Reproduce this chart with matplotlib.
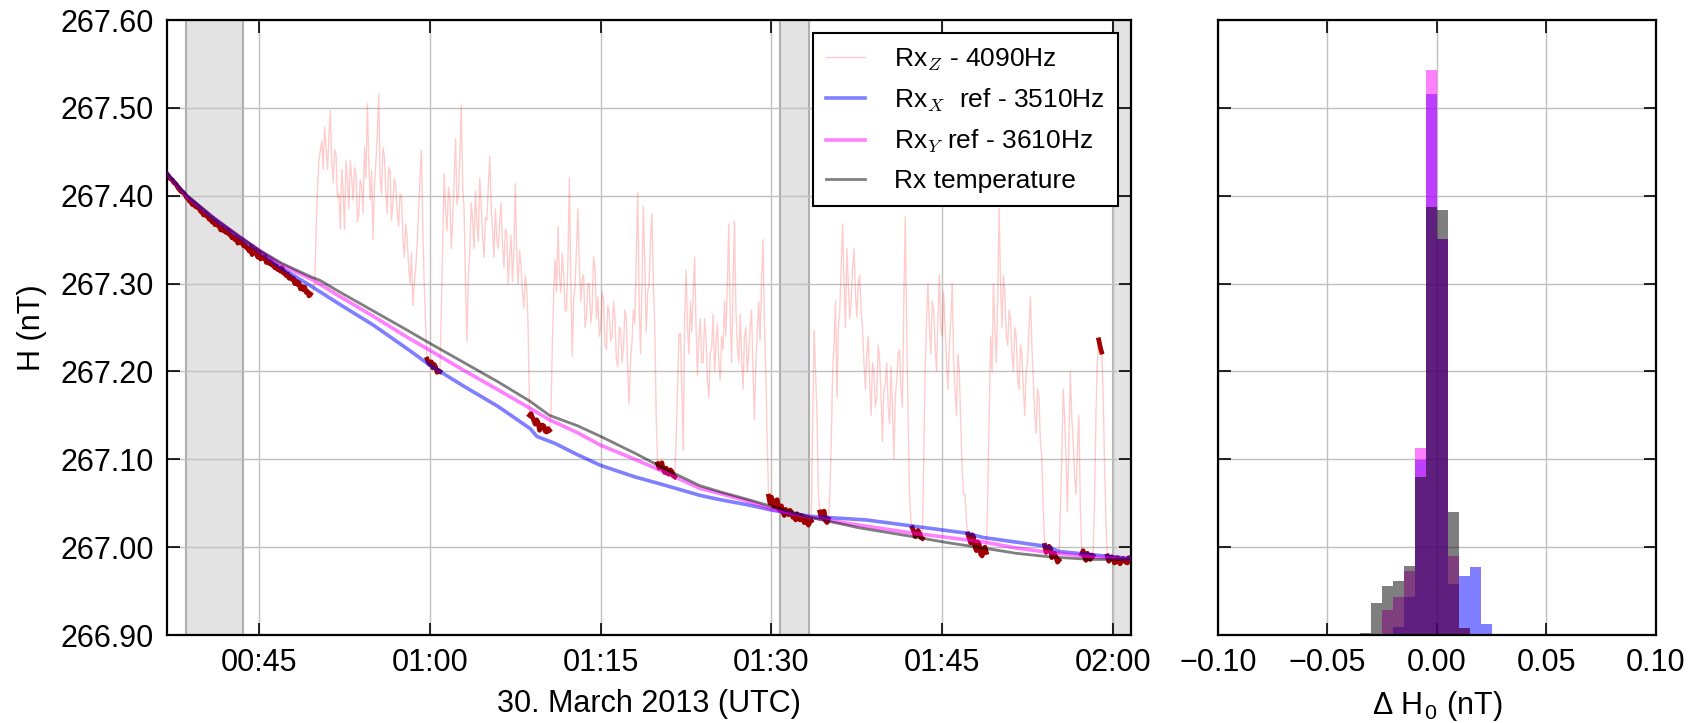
import numpy as np
import pandas as pd
import matplotlib
matplotlib.use('Agg')
import matplotlib.pyplot as plt
import matplotlib.dates as mdates

plt.rcParams['font.family'] = ['Liberation Sans', 'DejaVu Sans']
plt.rcParams['mathtext.fontset'] = 'cm'

# ---------------- data (minutes after 2013-03-30 00:00 UTC) ----------------
day = pd.Timestamp('2013-03-30')

# Rx temperature (grey)
temp_min = [36.87, 38.6, 41, 43, 45, 47, 49.5, 50.3, 52, 55, 58, 60, 63, 66, 68.8, 70.5, 73, 75,
            78, 80.5, 83.7, 85.5, 88, 90.1, 93.4, 97.7, 102.4, 105.5, 108.6, 111.5, 114.4, 118, 121.6]
temp_val = [267.426, 267.401, 267.375, 267.356, 267.338, 267.323, 267.308, 267.304, 267.291, 267.269,
            267.247, 267.232, 267.210, 267.188, 267.166, 267.150, 267.138, 267.126, 267.107, 267.090,
            267.070, 267.063, 267.054, 267.046, 267.034, 267.022, 267.012, 267.005, 266.999, 266.993,
            266.989, 266.986, 266.986]

# Rx_Y ref - 3610 Hz (magenta)
y_min = [36.87, 38.6, 41, 43, 45, 47, 49.75, 52, 55, 58, 60, 63, 66, 68.8, 70.5, 73, 75, 78, 80.5,
         83.7, 85.5, 88, 90.1, 93.4, 97.7, 102.4, 105.5, 108.6, 111.5, 114.4, 118, 121.6]
y_val = [267.426, 267.400, 267.375, 267.356, 267.338, 267.321, 267.304, 267.286, 267.263, 267.239,
         267.224, 267.201, 267.179, 267.158, 267.145, 267.130, 267.116, 267.100, 267.086, 267.067,
         267.061, 267.052, 267.043, 267.034, 267.025, 267.016, 267.011, 267.006, 266.999, 266.994,
         266.989, 266.986]

# Rx_X ref - 3510 Hz (blue)
x_min = [36.87, 38.6, 41, 43, 45, 46.82, 49.45, 52, 55, 58.2, 60, 63, 66, 68.8, 69.4, 71, 73, 75,
         78, 80.5, 83.7, 85.5, 88, 90.1, 93.4, 98.3, 102.4, 107.1, 108.6, 114.1, 115.3, 121.6]
x_val = [267.426, 267.400, 267.374, 267.355, 267.337, 267.319, 267.298, 267.277, 267.253, 267.224,
         267.207, 267.183, 267.160, 267.135, 267.126, 267.118, 267.105, 267.093, 267.080, 267.071,
         267.059, 267.054, 267.048, 267.042, 267.035, 267.031, 267.024, 267.016, 267.011, 267.001,
         266.995, 266.987]

# Rx_Z - 4090 Hz, sampled every 0.125 min from 00:36:45 (one row = one minute)
rz_start_min = 36.75
rz_step_min = 0.125
rz_val = [
    267.428, 267.425,
    267.423, 267.420, 267.419, 267.418, 267.415, 267.414, 267.412, 267.409,   # 37
    267.407, 267.405, 267.404, 267.403, 267.401, 267.398, 267.397, 267.394,
    267.393, 267.390, 267.392, 267.388, 267.387, 267.387, 267.385, 267.382,
    267.381, 267.378, 267.380, 267.377, 267.376, 267.373, 267.374, 267.370,   # 40
    267.371, 267.367, 267.369, 267.366, 267.365, 267.361, 267.364, 267.360,
    267.360, 267.358, 267.361, 267.356, 267.355, 267.352, 267.353, 267.350,
    267.352, 267.346, 267.349, 267.347, 267.347, 267.343, 267.344, 267.341,
    267.340, 267.337, 267.342, 267.333, 267.336, 267.338, 267.334, 267.330,
    267.335, 267.328, 267.330, 267.329, 267.331, 267.324, 267.326, 267.323,   # 45
    267.325, 267.321, 267.322, 267.318, 267.320, 267.316, 267.317, 267.314,
    267.318, 267.312, 267.313, 267.309, 267.311, 267.306, 267.308, 267.305,
    267.306, 267.300, 267.303, 267.299, 267.301, 267.294, 267.297, 267.293,
    267.296, 267.290, 267.291, 267.286, 267.288, 267.284, 267.292, 267.300,
    267.360, 267.410, 267.440, 267.452, 267.462, 267.430, 267.478, 267.455,   # 50
    267.430, 267.468, 267.497, 267.440, 267.415, 267.452, 267.447, 267.398,
    267.402, 267.362, 267.430, 267.405, 267.362, 267.440, 267.419, 267.385,
    267.440, 267.420, 267.395, 267.432, 267.425, 267.370, 267.378, 267.418,
    267.412, 267.380, 267.455, 267.420, 267.505, 267.440, 267.395, 267.428,
    267.350, 267.410, 267.438, 267.470, 267.516, 267.420, 267.402, 267.455,   # 55
    267.445, 267.405, 267.380, 267.432, 267.428, 267.372, 267.392, 267.420,
    267.410, 267.378, 267.365, 267.402, 267.398, 267.350, 267.330, 267.368,
    267.352, 267.318, 267.300, 267.335, 267.275, 267.300, 267.318, 267.345,
    267.382, 267.420, 267.452, 267.360, 267.300, 267.250, 267.214, 267.210,
    267.208, 267.211, 267.204, 267.208, 267.205, 267.199, 267.201, 267.200,   # 60
    267.270, 267.350, 267.425, 267.382, 267.360, 267.410, 267.398, 267.340,
    267.372, 267.418, 267.465, 267.390, 267.402, 267.445, 267.503, 267.410,
    267.385, 267.300, 267.234, 267.310, 267.335, 267.392, 267.372, 267.340,
    267.405, 267.370, 267.348, 267.420, 267.392, 267.352, 267.330, 267.375,
    267.372, 267.410, 267.445, 267.390, 267.360, 267.330, 267.385, 267.350,   # 65
    267.340, 267.370, 267.392, 267.345, 267.318, 267.362, 267.358, 267.300,
    267.330, 267.355, 267.302, 267.340, 267.414, 267.330, 267.300, 267.338,
    267.320, 267.290, 267.272, 267.310, 267.295, 267.250, 267.150, 267.152,
    267.148, 267.144, 267.140, 267.145, 267.142, 267.133, 267.136, 267.139,
    267.138, 267.132, 267.131, 267.135, 267.133, 267.150, 267.230, 267.290,   # 70
    267.327, 267.290, 267.365, 267.310, 267.290, 267.335, 267.310, 267.268,
    267.270, 267.330, 267.420, 267.300, 267.217, 267.280, 267.300, 267.340,
    267.385, 267.320, 267.280, 267.305, 267.310, 267.250, 267.262, 267.300,
    267.300, 267.255, 267.270, 267.330, 267.318, 267.260, 267.285, 267.240,
    267.250, 267.290, 267.282, 267.230, 267.225, 267.275, 267.268, 267.235,   # 75
    267.240, 267.280, 267.262, 267.215, 267.205, 267.250, 267.248, 267.210,
    267.228, 267.270, 267.262, 267.200, 267.162, 267.215, 267.235, 267.270,
    267.255, 267.330, 267.404, 267.280, 267.220, 267.300, 267.388, 267.320,
    267.245, 267.290, 267.300, 267.350, 267.380, 267.300, 267.250, 267.150,
    267.095, 267.090, 267.092, 267.096, 267.088, 267.085, 267.090, 267.084,   # 80
    267.083, 267.088, 267.086, 267.081, 267.080, 267.120, 267.180, 267.243,
    267.243, 267.180, 267.110, 267.260, 267.315, 267.250, 267.220, 267.280,
    267.245, 267.290, 267.330, 267.250, 267.195, 267.240, 267.260, 267.210,
    267.210, 267.260, 267.240, 267.190, 267.170, 267.220, 267.228, 267.265,
    267.200, 267.230, 267.255, 267.210, 267.190, 267.240, 267.225, 267.280,   # 85
    267.240, 267.300, 267.368, 267.260, 267.210, 267.300, 267.371, 267.270,
    267.230, 267.210, 267.265, 267.220, 267.180, 267.240, 267.250, 267.200,
    267.220, 267.250, 267.270, 267.200, 267.145, 267.210, 267.244, 267.280,
    267.235, 267.300, 267.350, 267.260, 267.200, 267.120, 267.058, 267.050,
    267.057, 267.049, 267.046, 267.053, 267.054, 267.044, 267.042, 267.047,   # 90
    267.040, 267.036, 267.043, 267.038, 267.037, 267.042, 267.040, 267.034,
    267.035, 267.031, 267.038, 267.033, 267.031, 267.036, 267.034, 267.028,
    267.028, 267.032, 267.025, 267.029, 267.030, 267.150, 267.247, 267.200,
    267.150, 267.060, 267.040, 267.034, 267.036, 267.041, 267.030, 267.028,
    267.032, 267.060, 267.120, 267.200, 267.230, 267.280, 267.170, 267.250,   # 95
    267.270, 267.320, 267.368, 267.300, 267.250, 267.340, 267.300, 267.260,
    267.280, 267.320, 267.340, 267.290, 267.262, 267.300, 267.310, 267.270,
    267.250, 267.210, 267.180, 267.220, 267.240, 267.190, 267.150, 267.210,
    267.200, 267.160, 267.170, 267.230, 267.215, 267.170, 267.120, 267.180,
    267.185, 267.210, 267.160, 267.140, 267.205, 267.160, 267.100, 267.170,   # 100
    267.190, 267.220, 267.225, 267.180, 267.160, 267.280, 267.376, 267.250,
    267.150, 267.060, 267.030, 267.022, 267.018, 267.012, 267.014, 267.019,
    267.016, 267.011, 267.010, 267.100, 267.200, 267.260, 267.300, 267.250,
    267.220, 267.280, 267.270, 267.230, 267.200, 267.260, 267.310, 267.250,
    267.240, 267.290, 267.250, 267.210, 267.180, 267.230, 267.260, 267.300,   # 105
    267.215, 267.180, 267.150, 267.220, 267.200, 267.140, 267.090, 267.060,
    267.060, 267.030, 267.015, 267.010, 267.005, 267.014, 267.012, 267.000,
    266.996, 267.006, 267.003, 266.992, 266.990, 266.998, 267.000, 266.994,
    267.060, 267.150, 267.240, 267.200, 267.300, 267.250, 267.210, 267.280,
    267.386, 267.300, 267.250, 267.310, 267.290, 267.240, 267.230, 267.270,   # 110
    267.260, 267.220, 267.200, 267.250, 267.240, 267.190, 267.180, 267.230,
    267.220, 267.180, 267.150, 267.200, 267.210, 267.250, 267.285, 267.230,
    267.190, 267.150, 267.130, 267.180, 267.170, 267.120, 267.100, 267.040,
    267.002, 266.994, 266.996, 267.001, 266.999, 266.988, 266.990, 266.993,
    266.988, 266.983, 266.985, 267.040, 267.100, 267.180, 267.150, 267.100,   # 115
    267.040, 267.120, 267.200, 267.150, 267.120, 267.080, 267.060, 267.110,
    267.150, 267.050, 266.992, 266.996, 266.989, 266.985, 266.993, 266.988,
    266.986, 266.991, 266.990, 267.050, 267.150, 267.210, 267.236, 267.228,
    267.222, 267.180, 267.100, 267.030, 266.990, 266.984, 266.986, 266.989,
    266.988, 266.982, 266.983, 266.988, 266.987, 266.981, 266.984, 266.987,   # 120
    266.986, 266.983, 266.982, 266.988, 266.987, 266.983, 266.985, 266.984,
]

# time windows (minutes) in which the Rx_Z reading is highlighted in dark red
valid_windows = [(36.7, 49.6), (59.7, 60.9), (68.7, 70.6), (80.0, 81.6), (89.7, 93.5),
                 (94.2, 95.1), (102.3, 103.3), (107.2, 108.9), (114.0, 115.3), (117.2, 118.3),
                 (118.7, 119.05), (119.45, 121.9)]

# grey shaded intervals (minutes)
band_spans = [(38.57, 43.6), (90.73, 93.33), (120.0, 121.7)]

# histogram of Delta H0
bin_edges = [-0.035, -0.03, -0.025, -0.02, -0.015, -0.01, -0.005, 0.0, 0.005, 0.01, 0.015, 0.02, 0.025]
hist_x = [0.00, 0.00, 0.00, 0.09, 0.43, 1.99, 6.16, 4.51, 0.58, 0.67, 0.77, 0.13]
hist_y = [0.00, 0.00, 0.28, 0.43, 0.73, 2.13, 6.43, 4.51, 0.90, 0.08, 0.00, 0.00]
hist_t = [0.02, 0.37, 0.56, 0.61, 0.79, 1.80, 4.87, 4.84, 1.40, 0.08, 0.00, 0.00]
hist_xticks = [-0.10, -0.05, 0.0, 0.05, 0.10]
hist_xticklabels = ['\u22120.10', '\u22120.05', '0.00', '0.05', '0.10']

y_ticks = [266.90, 267.00, 267.10, 267.20, 267.30, 267.40, 267.50, 267.60]
x_limits_min = (36.87, 121.58)


def to_time(minutes):
    return (day + pd.to_timedelta(np.asarray(minutes, dtype=float), unit='min')).values


# ---------------- figure ----------------
fig = plt.figure(figsize=(17.02, 7.23), dpi=100)
ax = fig.add_axes([0.0979, 0.1217, 0.5666, 0.8506])
axh = fig.add_axes([0.7156, 0.1217, 0.2573, 0.8506])

FS = 22

for t0, t1 in band_spans:
    tt = to_time([t0, t1])
    ax.axvspan(tt[0], tt[1], facecolor='#e3e3e3', edgecolor='#b0b0b0', lw=1.5, zorder=1)

rz_min = rz_start_min + rz_step_min * np.arange(len(rz_val))
rz_arr = np.asarray(rz_val)
lz, = ax.plot(to_time(rz_min), rz_arr, color='red', alpha=0.2, lw=1.0, zorder=2,
              label='Rx$_Z$ - 4090Hz')
for w0, w1 in valid_windows:
    m = (rz_min >= w0) & (rz_min <= w1)
    ax.plot(to_time(rz_min[m]), rz_arr[m], color='#a00000', lw=3.4, zorder=2.5)

lx, = ax.plot(to_time(x_min), x_val, color='blue', alpha=0.5, lw=2.6, zorder=3,
              label='Rx$_X$  ref - 3510Hz')
ly, = ax.plot(to_time(y_min), y_val, color='magenta', alpha=0.5, lw=2.6, zorder=3,
              label='Rx$_Y$ ref - 3610Hz')
lt, = ax.plot(to_time(temp_min), temp_val, color='black', alpha=0.5, lw=2.0, zorder=3,
              label='Rx temperature')

xl = to_time(list(x_limits_min))
ax.set_xlim(xl[0], xl[1])
ax.set_ylim(266.90, 267.60)
ax.set_yticks(y_ticks)
ax.yaxis.set_major_formatter(matplotlib.ticker.FormatStrFormatter('%.2f'))
ax.xaxis.set_major_locator(mdates.MinuteLocator(byminute=[0, 15, 30, 45]))
ax.xaxis.set_major_formatter(mdates.DateFormatter('%H:%M'))
ax.set_xlabel('30. March 2013 (UTC)', fontsize=FS, labelpad=8)
ax.set_ylabel('H (nT)', fontsize=FS, labelpad=10)

leg = ax.legend(handles=[lz, lx, ly, lt], loc='upper right', fontsize=19, frameon=True,
                fancybox=False, framealpha=1, edgecolor='black', handlelength=1.45,
                handletextpad=1.1, labelspacing=0.52, borderpad=0.5)
leg.get_frame().set_linewidth(1.5)

# histogram: blue, magenta, grey
w = np.diff(bin_edges)
left = np.asarray(bin_edges[:-1])
axh.bar(left, hist_x, width=w, align='edge', color='blue', alpha=0.5, lw=0, zorder=2)
axh.bar(left, hist_y, width=w, align='edge', color='magenta', alpha=0.5, lw=0, zorder=2)
axh.bar(left, hist_t, width=w, align='edge', color='black', alpha=0.5, lw=0, zorder=2)
axh.set_xlim(-0.1, 0.1)
axh.set_ylim(0, 7)
axh.set_xticks(hist_xticks)
axh.set_xticklabels(hist_xticklabels)
axh.set_yticks(range(0, 8))
axh.tick_params(labelleft=False)
axh.set_xlabel('\u0394 H$_\\mathregular{0}$ (nT)', fontsize=FS, labelpad=8)

for a in (ax, axh):
    a.grid(True, color='#c0c0c0', lw=1.0, ls='-')
    a.tick_params(direction='in', length=9, width=1.2, top=True, right=True,
                  labelsize=FS, pad=9)
    for s in a.spines.values():
        s.set_linewidth(1.6)

fig.savefig('out.png', dpi=100)
